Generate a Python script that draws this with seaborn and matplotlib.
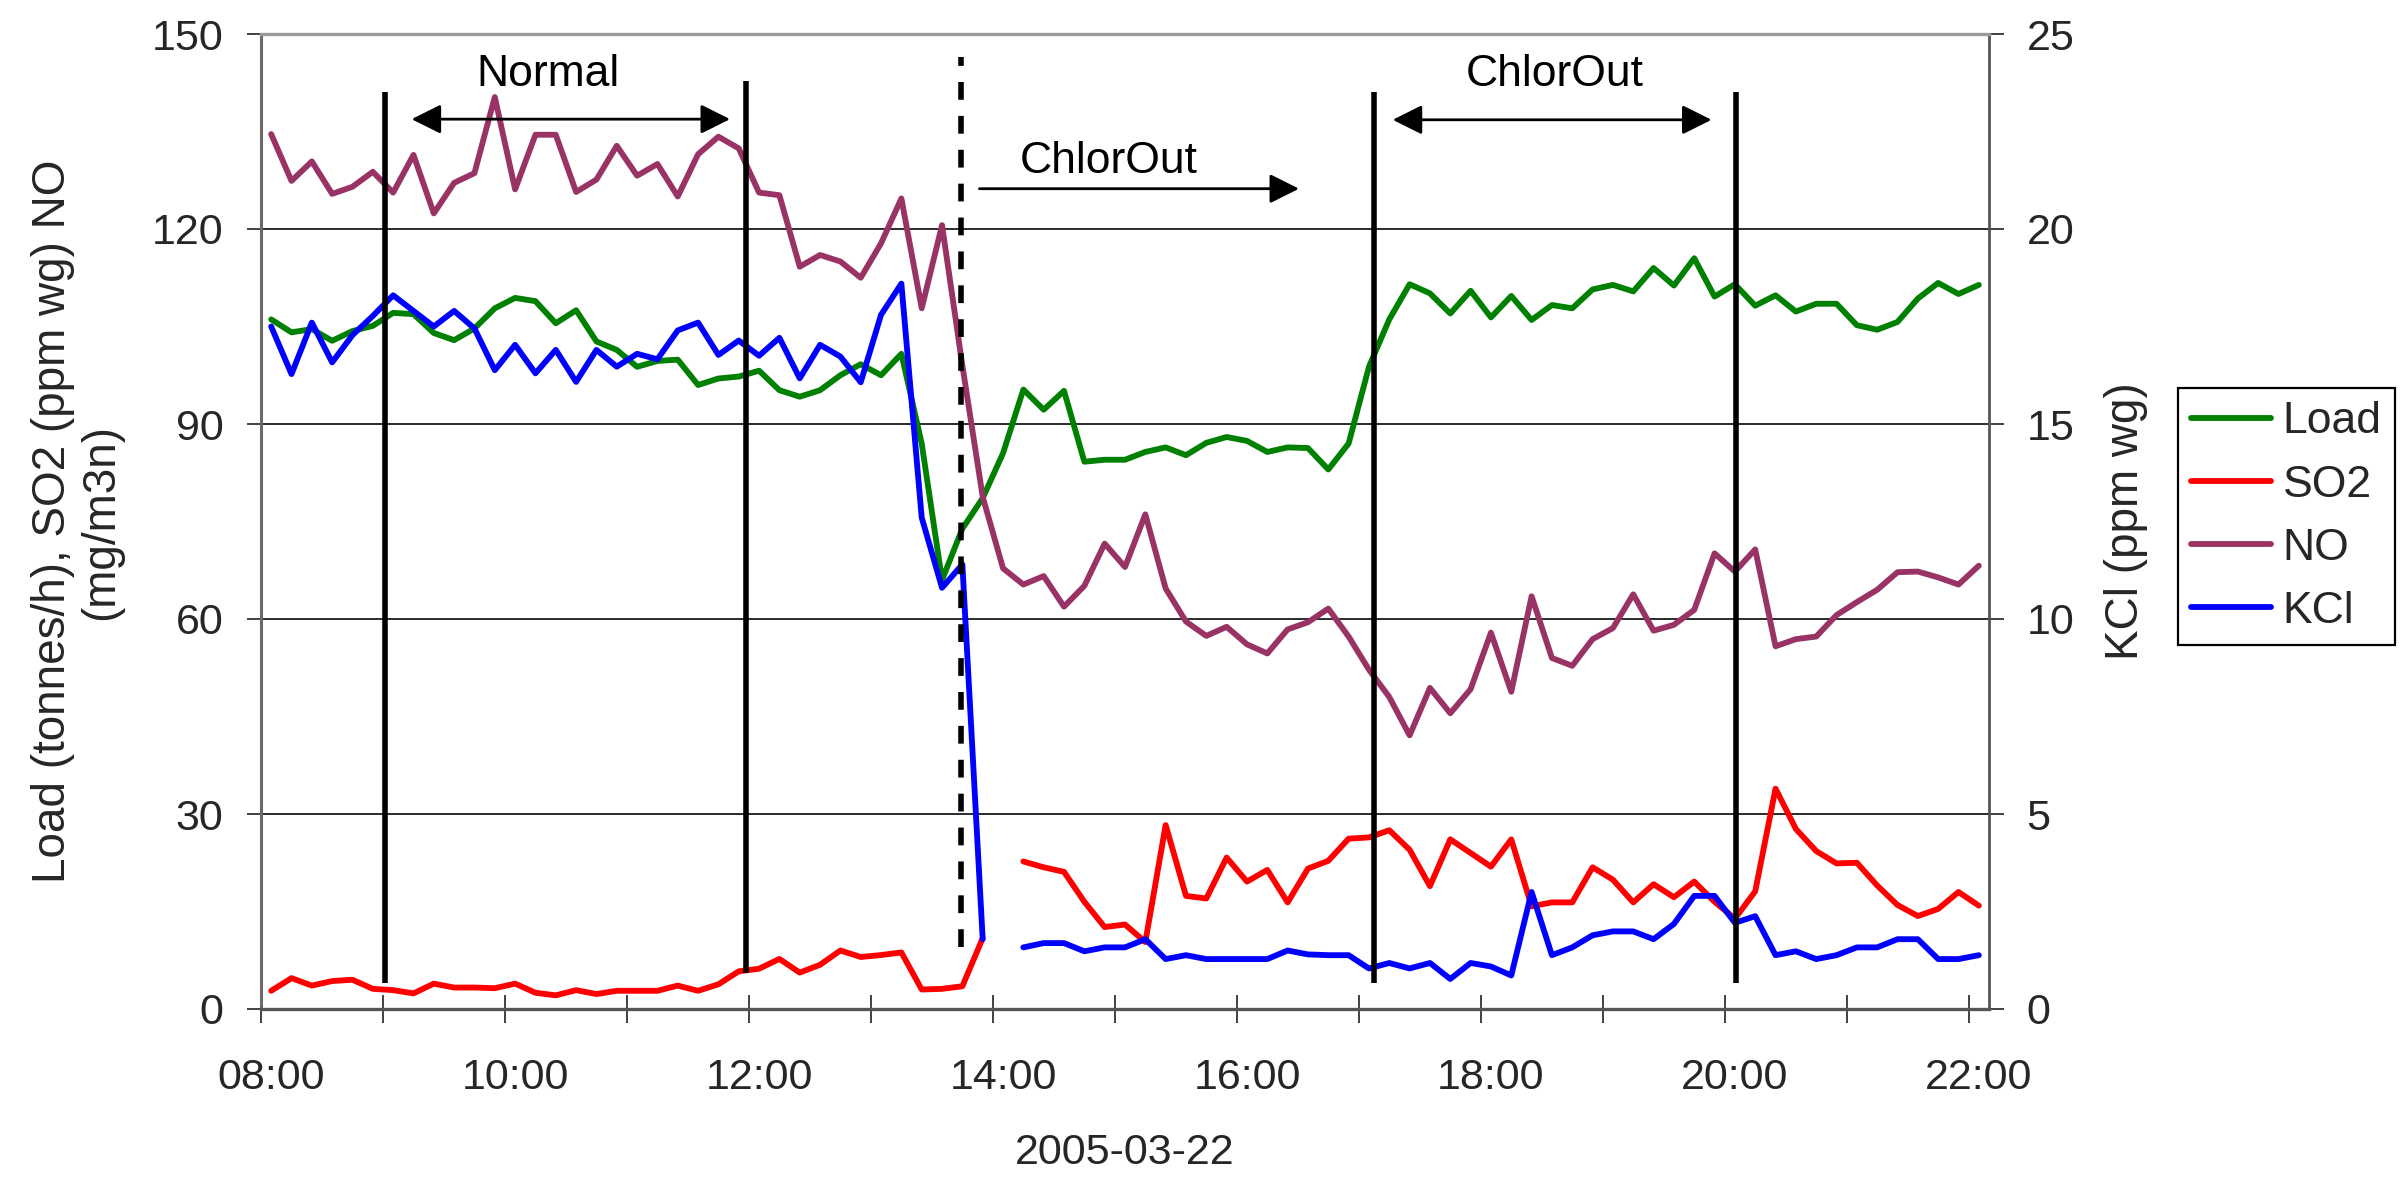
import numpy as np
import pandas as pd
import matplotlib
matplotlib.use("Agg")
import matplotlib.pyplot as plt
import seaborn as sns
from matplotlib.lines import Line2D

# ---------------- data ----------------
times = pd.date_range("2005-03-22 08:00", "2005-03-22 22:00", freq="10min")

load = [106.1, 104.1, 104.6, 102.8, 104.3, 105.1, 107.1, 106.9, 104.0, 102.9, 104.7, 107.8,
        109.4, 108.9, 105.5, 107.5, 102.7, 101.4, 98.8, 99.7, 99.9, 96.0, 97.0, 97.3,
        98.2, 95.2, 94.2, 95.2, 97.5, 99.2, 97.5, 100.8,
        87.0, 66.0, 73.9, 78.6, 85.5, 95.3, 92.2, 95.1, 84.2, 84.5, 84.5, 85.7, 86.4, 85.2,
        87.1, 88.0, 87.4, 85.7, 86.4, 86.3, 83.0, 87.0,
        98.8, 106.1, 111.5, 110.1, 107.0, 110.5, 106.4, 109.7, 106.0, 108.3, 107.8, 110.7,
        111.4, 110.4, 114.0, 111.3, 115.5, 109.6, 111.5, 108.2, 109.8, 107.3, 108.5, 108.5,
        105.2, 104.5, 105.7, 109.3, 111.7, 110.0, 111.4]

so2 = [2.8, 4.75, 3.6, 4.3, 4.5, 3.1, 2.9, 2.4, 3.9, 3.3, 3.3, 3.2, 3.9, 2.5, 2.1, 2.9,
       2.3, 2.8, 2.8, 2.8, 3.6, 2.8, 3.8, 5.8,
       6.2, 7.7, 5.6, 6.8, 9.0, 8.0, 8.3, 8.7, 3.0, 3.1, 3.5, 10.9,
       np.nan,
       22.7, 21.8, 21.1, 16.5, 12.6, 13.0, 10.3, 28.3, 17.4, 17.0, 23.3, 19.6, 21.4, 16.4,
       21.6, 22.8, 26.2, 26.4, 27.5, 24.5, 18.9, 26.1, 24.0, 21.9, 26.1, 15.8, 16.4, 16.4,
       21.8, 19.9, 16.4, 19.2, 17.2, 19.6, 16.5, 13.9, 18.1, 33.9, 27.7, 24.3, 22.4, 22.5,
       19.0, 16.0, 14.3, 15.4, 18.0, 15.9]

no = [134.6, 127.4, 130.4, 125.4, 126.5, 128.8, 125.6, 131.4, 122.4, 127.1, 128.6, 140.3,
      126.1, 134.5, 134.5, 125.7, 127.6, 132.8, 128.2, 130.0, 125.0, 131.5, 134.2, 132.4,
      125.6, 125.2, 114.2, 116.0, 115.0, 112.5, 117.8, 124.7, 107.8, 120.6, 99.0,
      78.8, 67.8, 65.3, 66.6, 61.9, 65.1, 71.6, 68.0, 76.1, 64.7, 59.6, 57.4, 58.8, 56.1,
      54.7, 58.4,
      59.5, 61.6, 57.3, 52.2, 48.0, 42.1, 49.4, 45.5, 49.2, 57.9, 48.8, 63.5, 54.0, 52.8,
      56.9, 58.6, 63.8, 58.2, 59.1, 61.4, 70.1, 67.3, 70.7, 55.8, 56.9, 57.3, 60.6, 62.6,
      64.5, 67.2, 67.3, 66.4, 65.3, 68.2]

kcl = [17.5, 16.28, 17.6, 16.58, 17.28, 17.77, 18.3, 17.9, 17.5, 17.9, 17.45, 16.38,
       17.03, 16.3, 16.9, 16.08, 16.9, 16.47, 16.8, 16.66, 17.4, 17.6, 16.77, 17.14,
       16.75, 17.21, 16.17, 17.03, 16.73, 16.07, 17.8, 18.6, 12.6, 10.8, 11.4, 1.79,
       np.nan,
       1.58, 1.69, 1.69, 1.48, 1.58, 1.58, 1.79, 1.28, 1.38, 1.28, 1.28, 1.28, 1.28, 1.5,
       1.4, 1.38, 1.38, 1.04, 1.18, 1.04, 1.18, 0.77, 1.18, 1.09, 0.86, 3.0, 1.38, 1.58,
       1.89, 1.99, 1.99, 1.79, 2.18, 2.9, 2.9, 2.21, 2.38, 1.38, 1.48, 1.28, 1.38, 1.58,
       1.58, 1.79, 1.79, 1.28, 1.28, 1.38]

tick_labels = ["08:00", "10:00", "12:00", "14:00", "16:00", "18:00", "20:00", "22:00"]
date_label = "2005-03-22"
series_names = ["Load", "SO2", "NO", "KCl"]
colors = {"Load": "#008000", "SO2": "#FF0000", "NO": "#993366", "KCl": "#0000FF"}

# annotation positions (category index, left-axis units)
vline_x = [5.6, 23.37, 54.23, 72.06]
vline_top = [141.1, 142.8, 141.1, 141.1]
vline_bottom = [4.0, 5.6, 4.0, 4.0]
dash_x, dash_bottom, dash_top = 33.93, 9.5, 146.5
period_texts = [("Normal", 13.62, 142.0), ("ChlorOut", 41.19, 128.6), ("ChlorOut", 63.15, 142.0)]
double_arrows = [(6.91, 22.57, 136.9), (55.17, 70.85, 136.8)]
single_arrows = [(34.84, 50.56, 126.2)]

# ---------------- style ----------------
sns.set_style("white")
plt.rcParams["font.family"] = ["Liberation Sans", "DejaVu Sans"]

W, H = 2404, 1178
fig = plt.figure(figsize=(W / 100, H / 100), dpi=100)
L, R, T, B = 261, 1989, 34, 1009
ax = fig.add_axes([L / W, 1 - B / H, (R - L) / W, (B - T) / H])
ax2 = ax.twinx()

LW = 4.2


def long_df(name, vals):
    v = np.array(vals, dtype=float)
    idx = np.arange(len(times))
    seg = np.cumsum(np.isnan(v))
    df = pd.DataFrame({"idx": idx, "value": v, "series": name, "seg": seg})
    return df.dropna()


left_df = pd.concat([long_df("Load", load), long_df("SO2", so2), long_df("NO", no)],
                    ignore_index=True)
sns.lineplot(data=left_df, x="idx", y="value", hue="series", units="seg",
             estimator=None, hue_order=["Load", "SO2", "NO"], palette=colors,
             linewidth=LW, legend=False, sort=False, ax=ax)
sns.lineplot(data=long_df("KCl", kcl), x="idx", y="value", units="seg",
             estimator=None, color=colors["KCl"], linewidth=LW, legend=False, sort=False,
             ax=ax2)

n = len(times)
ax.set_xlim(-0.5, n - 0.5)
ax.set_ylim(0, 150)
ax2.set_ylim(0, 25)

label_pos = [i for i, t in enumerate(times) if t.minute == 0 and t.hour % 2 == 0]
ax.set_xticks(label_pos)
ax.set_xticklabels(tick_labels)
ax.set_xticks(np.arange(-0.5, n - 1, 6), minor=True)
ax.tick_params(axis="x", which="major", length=0, pad=35, labelsize=31)
ax.tick_params(axis="x", which="minor", length=20, width=1.3, direction="inout",
               color="#333333", bottom=True)
ax.set_yticks(np.arange(0, 151, 30))
ax.tick_params(axis="y", which="major", length=10, width=1.3, color="#333333",
               direction="out", pad=17, labelsize=31, left=True)
ax2.set_yticks(np.arange(0, 26, 5))
ax2.tick_params(axis="y", which="major", length=11, width=1.3, color="#333333",
                direction="out", pad=16, labelsize=31, right=True)

ax.yaxis.grid(True, color="#1a1a1a", lw=1.3)
ax.xaxis.grid(False)
ax2.grid(False)

for a in (ax, ax2):
    for s in a.spines.values():
        s.set_visible(False)
ax2.spines["left"].set_visible(True)
ax2.spines["left"].set_color("#6a6a6a")
ax2.spines["left"].set_linewidth(2.2)
ax2.spines["top"].set_visible(True)
ax2.spines["top"].set_color("#9a9a9a")
ax2.spines["top"].set_linewidth(2.4)
ax2.spines["bottom"].set_visible(True)
ax2.spines["bottom"].set_color("#555555")
ax2.spines["bottom"].set_linewidth(2.4)
ax2.spines["right"].set_visible(True)
ax2.spines["right"].set_color("#555555")
ax2.spines["right"].set_linewidth(2.0)

ax.set_xlabel(date_label, fontsize=31)
ax.xaxis.set_label_coords(0.5, -0.127)
ax.set_ylabel("Load (tonnes/h), SO2 (ppm wg) NO\n(mg/m3n)", fontsize=33, linespacing=1.15)
ax.yaxis.set_label_coords(-0.0795, 0.5)
ax2.set_ylabel("KCl (ppm wg)", fontsize=33)
ax2.yaxis.set_label_coords(1.0665, 0.5)

# annotations drawn on top (in left-axis data units)
for x, b, t in zip(vline_x, vline_bottom, vline_top):
    ax2.plot([x, x], [b, t], color="black", lw=4.0, solid_capstyle="butt",
             transform=ax.transData, zorder=5)
ax2.plot([dash_x, dash_x], [dash_bottom, dash_top], color="black", lw=4.0,
         linestyle=(0, (3.2, 2.9)), dash_capstyle="butt", transform=ax.transData, zorder=5)

for x1, x2, y in double_arrows:
    ax2.annotate("", xy=(x2, y), xytext=(x1, y), xycoords=ax.transData,
                 textcoords=ax.transData,
                 arrowprops=dict(arrowstyle="<|-|>,head_length=1.8,head_width=0.9",
                                 lw=2.0, color="black", shrinkA=0, shrinkB=0,
                                 mutation_scale=10))
for x1, x2, y in single_arrows:
    ax2.annotate("", xy=(x2, y), xytext=(x1, y), xycoords=ax.transData,
                 textcoords=ax.transData,
                 arrowprops=dict(arrowstyle="-|>,head_length=1.8,head_width=0.9",
                                 lw=2.0, color="black", shrinkA=0, shrinkB=0,
                                 mutation_scale=10))
for txt, x, y in period_texts:
    ax2.text(x, y, txt, transform=ax.transData, ha="center", va="baseline",
             fontsize=32, color="black", zorder=6)

handles = [Line2D([], [], color=colors[s], lw=LW) for s in series_names]
leg = ax2.legend(handles, series_names, loc="upper left",
                 bbox_to_anchor=(2178 / W, 1 - 388 / H), bbox_transform=fig.transFigure,
                 frameon=True, fancybox=False, edgecolor="black", framealpha=1,
                 fontsize=32, handlelength=1.8, handletextpad=0.25, borderpad=0.3,
                 labelspacing=0.5, borderaxespad=0)
leg.get_frame().set_linewidth(1.6)

fig.savefig("out.png", dpi=100, facecolor="white")
